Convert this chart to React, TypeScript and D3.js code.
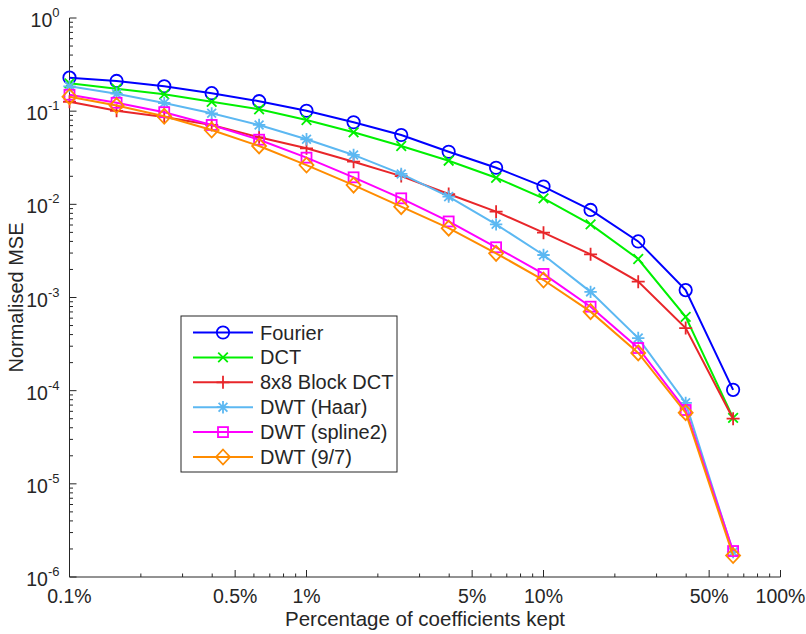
import React from "react";
import * as d3 from "d3";

const percentKept = [0.1, 0.158, 0.251, 0.398, 0.631, 1, 1.58, 2.51, 3.98, 6.31, 10, 15.8, 25.1, 39.8, 63.1];

const fourier = [0.229, 0.211, 0.185, 0.156, 0.128, 0.101, 0.076, 0.0555, 0.0367, 0.0247, 0.0155, 0.0087, 0.004, 0.0012, 0.000102];
const dct = [0.199, 0.174, 0.152, 0.126, 0.1047, 0.0804, 0.0593, 0.0423, 0.0294, 0.0193, 0.0116, 0.0061, 0.00259, 0.00062, 0.000051];
const block8 = [0.126, 0.1009, 0.0866, 0.0711, 0.0524, 0.0399, 0.0287, 0.0201, 0.0129, 0.00834, 0.00496, 0.00291, 0.00148, 0.00047, 0.00005];
const haar = [0.185, 0.154, 0.1224, 0.0948, 0.0711, 0.0499, 0.0339, 0.0212, 0.0121, 0.0061, 0.00286, 0.00115, 0.000367, 0.000074, 0.00000185];
const spline2 = [0.15, 0.123, 0.0975, 0.0711, 0.0494, 0.0317, 0.0195, 0.0116, 0.00655, 0.00346, 0.00179, 0.000797, 0.000287, 0.000062, 0.0000019];
const dwt97 = [0.143, 0.115, 0.0881, 0.0628, 0.0423, 0.0264, 0.0161, 0.00943, 0.00555, 0.00298, 0.00154, 0.000705, 0.000254, 0.000058, 0.0000017];

const seriesNames = ["Fourier", "DCT", "8x8 Block DCT", "DWT (Haar)", "DWT (spline2)", "DWT (9/7)"];
const seriesColors = ["#0000ff", "#00f000", "#e8262a", "#5cb8f2", "#ff00ff", "#ff8c00"];
const seriesMarkers = ["circle", "x", "plus", "star", "square", "diamond"];
const seriesValues = [fourier, dct, block8, haar, spline2, dwt97];

const xTickLabels = ["0.1%", "0.5%", "1%", "5%", "10%", "50%", "100%"];
const xTickValues = [0.1, 0.5, 1, 5, 10, 50, 100];
const yTickExponents = [0, -1, -2, -3, -4, -5, -6];

const W = 806;
const H = 634;
const X0 = 69.5;
const X1 = 780.5;
const Y0 = 18;
const Y1 = 577;
const FONT = "'Liberation Sans', Arial, Helvetica, sans-serif";
const AX = "#262626";

function Marker({ type, x, y, color }: { type: string; x: number; y: number; color: string }) {
  const sw = 1.8;
  const common = { stroke: color, strokeWidth: sw, fill: "none" };
  if (type === "circle") return <circle cx={x} cy={y} r={6.2} {...common} />;
  if (type === "square") return <rect x={x - 5} y={y - 5} width={10} height={10} {...common} />;
  if (type === "diamond")
    return <path d={`M${x},${y - 7.5}L${x + 7},${y}L${x},${y + 7.5}L${x - 7},${y}Z`} {...common} />;
  if (type === "x") {
    const s = 4.8;
    return <path d={`M${x - s},${y - s}L${x + s},${y + s}M${x - s},${y + s}L${x + s},${y - s}`} {...common} />;
  }
  if (type === "plus") {
    const s = 6.5;
    return <path d={`M${x - s},${y}L${x + s},${y}M${x},${y - s}L${x},${y + s}`} {...common} />;
  }
  const s = 6.2;
  const d = 4.4;
  return (
    <path
      d={`M${x - s},${y}L${x + s},${y}M${x},${y - s}L${x},${y + s}M${x - d},${y - d}L${x + d},${y + d}M${x - d},${y + d}L${x + d},${y - d}`}
      {...common}
    />
  );
}

export default function App() {
  const xScale = d3.scaleLog().domain([0.1, 100]).range([X0, X1]);
  const yScale = d3.scaleLog().domain([1e-6, 1]).range([Y1, Y0]);
  const line = d3
    .line<[number, number]>()
    .x((d) => xScale(d[0]))
    .y((d) => yScale(d[1]));

  const xMinor: number[] = [];
  for (let k = -1; k <= 1; k++) for (let m = 1; m <= 9; m++) {
    const v = m * Math.pow(10, k);
    if (v <= 100 && !xTickValues.some((t) => Math.abs(t - v) < 1e-9)) xMinor.push(v);
  }
  const yMinor: number[] = [];
  for (let k = -6; k < 0; k++) for (let m = 2; m <= 9; m++) yMinor.push(m * Math.pow(10, k));

  const legX = 181;
  const legY = 316;
  const legW = 216;
  const legH = 156;
  const rowH = 24.9;

  return (
    <svg width={W} height={H} style={{ position: "absolute", left: 0, top: 0, background: "#fff" }} fontFamily={FONT}>
      <rect x={0} y={0} width={W} height={H} fill="#fff" />
      <line x1={X0} x2={X0} y1={Y0} y2={Y1} stroke={AX} strokeWidth={1} />
      <line x1={X0} x2={X1} y1={Y1} y2={Y1} stroke={AX} strokeWidth={1} />
      {xTickValues.map((v, i) => (
        <g key={"xt" + i}>
          <line x1={xScale(v)} x2={xScale(v)} y1={Y1} y2={Y1 - 7} stroke={AX} />
          <text x={xScale(v)} y={Y1 + 26} textAnchor="middle" fontSize={19.5} fill={AX}>
            {xTickLabels[i]}
          </text>
        </g>
      ))}
      {xMinor.map((v, i) => (
        <line key={"xm" + i} x1={xScale(v)} x2={xScale(v)} y1={Y1} y2={Y1 - 3.5} stroke={AX} />
      ))}
      {yTickExponents.map((e, i) => (
        <g key={"yt" + i}>
          <line x1={X0} x2={X0 + 7} y1={yScale(Math.pow(10, e))} y2={yScale(Math.pow(10, e))} stroke={AX} />
          <text x={X0 - 10} y={yScale(Math.pow(10, e)) + 9} textAnchor="end" fontSize={19.5} fill={AX}>
            10
            <tspan dy={-10} fontSize={13}>
              {String(e)}
            </tspan>
          </text>
        </g>
      ))}
      {yMinor.map((v, i) => (
        <line key={"ym" + i} x1={X0} x2={X0 + 3.5} y1={yScale(v)} y2={yScale(v)} stroke={AX} />
      ))}
      <text x={(X0 + X1) / 2} y={626} textAnchor="middle" fontSize={20.5} fill={AX}>
        Percentage of coefficients kept
      </text>
      <text
        transform={`translate(23,${(Y0 + Y1) / 2}) rotate(-90)`}
        textAnchor="middle"
        fontSize={20}
        fill={AX}
      >
        Normalised MSE
      </text>
      {seriesValues.map((vals, si) => {
        const pts = vals.map((v, i) => [percentKept[i], v] as [number, number]);
        return (
          <g key={"s" + si}>
            <path d={line(pts) || ""} fill="none" stroke={seriesColors[si]} strokeWidth={2} />
            {pts.map((p, i) => (
              <Marker key={i} type={seriesMarkers[si]} x={xScale(p[0])} y={yScale(p[1])} color={seriesColors[si]} />
            ))}
          </g>
        );
      })}
      <rect x={legX} y={legY} width={legW} height={legH} fill="#fff" stroke={AX} strokeWidth={1} />
      {seriesNames.map((n, i) => {
        const cy = legY + 16.5 + i * rowH;
        return (
          <g key={"l" + i}>
            <line x1={legX + 12} x2={legX + 72} y1={cy} y2={cy} stroke={seriesColors[i]} strokeWidth={2} />
            <Marker type={seriesMarkers[i]} x={legX + 42} y={cy} color={seriesColors[i]} />
            <text x={legX + 79} y={cy + 7} fontSize={20} fill={AX}>
              {n}
            </text>
          </g>
        );
      })}
    </svg>
  );
}
